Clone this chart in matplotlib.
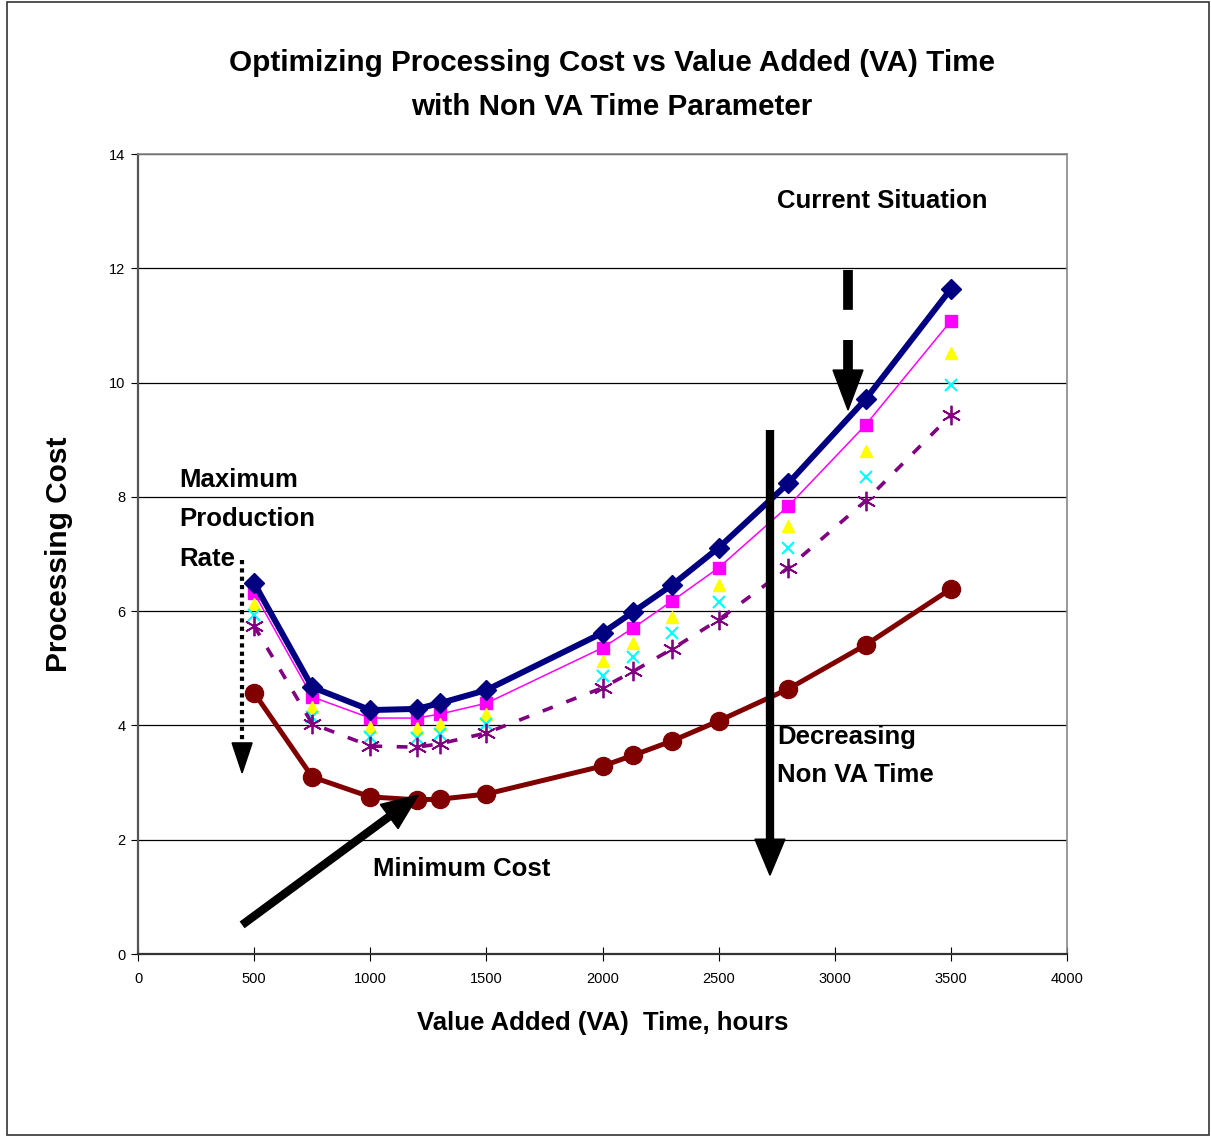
import matplotlib.pyplot as plt
import numpy as np
from matplotlib.patches import Rectangle, Polygon

# VA time grid (hours) shared by all cost curves
va_time = [500, 750, 1000, 1200, 1300, 1500, 2000, 2133, 2300, 2500, 2800, 3133, 3500]

# processing cost for decreasing non VA time
cost_a = [6.49, 4.67, 4.27, 4.29, 4.39, 4.62, 5.62, 5.99, 6.46, 7.11, 8.24, 9.71, 11.64]
cost_b = [6.32, 4.50, 4.13, 4.13, 4.20, 4.39, 5.36, 5.71, 6.18, 6.76, 7.84, 9.26, 11.08]
cost_c = [6.13, 4.32, 3.97, 3.96, 4.03, 4.20, 5.13, 5.44, 5.90, 6.46, 7.49, 8.80, 10.52]
cost_d = [5.93, 4.15, 3.80, 3.78, 3.85, 4.03, 4.87, 5.20, 5.62, 6.16, 7.10, 8.35, 9.96]
cost_e = [5.74, 4.03, 3.64, 3.62, 3.68, 3.87, 4.66, 4.95, 5.34, 5.85, 6.76, 7.93, 9.43]
cost_f = [4.57, 3.10, 2.75, 2.70, 2.71, 2.80, 3.29, 3.48, 3.73, 4.08, 4.64, 5.41, 6.39]

x_ticks = [0, 500, 1000, 1500, 2000, 2500, 3000, 3500, 4000]
y_ticks = [0, 2, 4, 6, 8, 10, 12, 14]

plt.rcParams['font.family'] = ['Liberation Sans', 'DejaVu Sans']

fig = plt.figure(figsize=(12.11, 11.37), dpi=100)
fig.patches.append(Rectangle((0.006, 0.002), 0.992, 0.996, transform=fig.transFigure,
                             fill=False, edgecolor='#333333', lw=1.2))
ax = fig.add_axes([0.1140, 0.1609, 0.7671, 0.7036])

ax.plot(va_time, cost_a, color='#000080', lw=4.3, marker='D', ms=10, zorder=6)
ax.plot(va_time, cost_b, color='#FF00FF', lw=1.1, marker='s', ms=8, zorder=5)
ax.plot(va_time, cost_c, color='none', marker='^', ms=8, mfc='#FFFF00', mec='#FFFF00', zorder=5)
ax.plot(va_time, cost_d, color='none', marker='x', ms=8, mew=1.5, mec='#00FFFF', zorder=5)
ax.plot(va_time, cost_e, color='#800080', lw=2.6, ls=(0, (3, 4)), marker=(6, 2, 0), ms=14,
        mew=1.3, mec='#800080', zorder=5)
ax.plot(va_time, cost_f, color='#800000', lw=3.6, marker='o', ms=13, zorder=6)

ax.set_xlim(0, 4000)
ax.set_ylim(0, 14)
ax.set_xticks(x_ticks)
ax.set_yticks(y_ticks)
ax.tick_params(axis='x', direction='inout', length=10, labelsize=10.5, pad=8)
ax.tick_params(axis='y', direction='out', length=5, labelsize=10.5, pad=4)
ax.grid(axis='y', color='black', lw=0.9)
ax.set_axisbelow(True)
for side in ['top', 'right']:
    ax.spines[side].set_color('#888888')
    ax.spines[side].set_linewidth(1.2)
ax.spines['left'].set_color('#555555')
ax.spines['left'].set_linewidth(1.6)
ax.spines['bottom'].set_color('#333333')
ax.spines['bottom'].set_linewidth(1.6)

ax.set_xlabel('Value Added (VA)  Time, hours', fontsize=18.5, fontweight='bold', labelpad=18)
ax.set_ylabel('Processing Cost', fontsize=21.5, fontweight='bold', labelpad=26)

fig.text(0.505, 0.945, 'Optimizing Processing Cost vs Value Added (VA) Time',
         ha='center', va='center', fontsize=21.3, fontweight='bold')
fig.text(0.505, 0.906, 'with Non VA Time Parameter',
         ha='center', va='center', fontsize=21.3, fontweight='bold')

# annotations on the chart
txt = dict(fontsize=18.5, fontweight='bold', va='center', ha='left')
ax.text(2752, 13.17, 'Current Situation', **txt)
ax.text(2752, 3.8, 'Decreasing', **txt)
ax.text(2752, 3.13, 'Non VA Time', **txt)
ax.text(176, 8.3, 'Maximum', **txt)
ax.text(176, 7.62, 'Production', **txt)
ax.text(176, 6.92, 'Rate', **txt)
ax.text(1012, 1.49, 'Minimum Cost', **txt)


def arrow(start, tip, lw, ls, head_len, head_w):
    # shaft drawn as a line, head as a filled triangle sized in pixels
    p0 = ax.transData.transform(start)
    p1 = ax.transData.transform(tip)
    d = (p1 - p0) / np.hypot(*(p1 - p0))
    n = np.array([-d[1], d[0]])
    base = p1 - d * head_len
    inv = ax.transData.inverted()
    b = inv.transform(base)
    ax.plot([start[0], b[0]], [start[1], b[1]], color='black', lw=lw, ls=ls,
            solid_capstyle='butt', dash_capstyle='butt', zorder=8)
    pts = inv.transform([p1, base + n * head_w / 2, base - n * head_w / 2])
    ax.add_patch(Polygon(pts, closed=True, color='black', zorder=8))


arrow((3057, 11.97), (3057, 9.52), 7, (0, (4.1, 3.1)), 40, 30)  # current situation
arrow((2721, 9.17), (2721, 1.38), 6, '-', 36, 30)               # decreasing non VA time
arrow((448, 6.9), (448, 3.17), 3, (0, (1, 1)), 30, 20)          # maximum production rate
arrow((448, 0.51), (1206, 2.78), 6, '-', 36, 30)                # minimum cost

fig.savefig('out.png', dpi=100)
